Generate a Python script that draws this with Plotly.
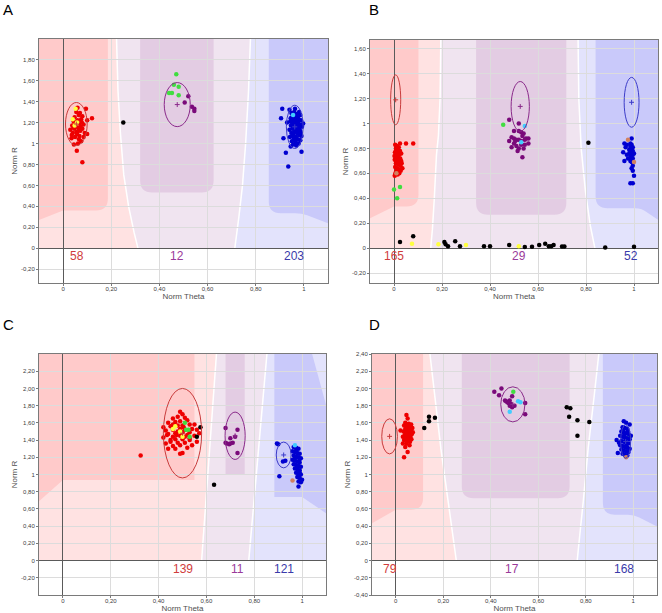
import plotly.graph_objects as go

W, H = 662, 613

# ---------------- data (Norm Theta, Norm R) ----------------
# Panel A
A_red = [(0.080,0.82),(0.057,0.93),(0.045,0.99),(0.062,1.00),(0.075,1.02),(0.100,1.09),(0.035,1.05),(0.050,1.06),
         (0.068,1.07),(0.085,1.06),(0.040,1.10),(0.055,1.11),(0.072,1.12),(0.030,1.13),(0.046,1.14),(0.062,1.15),
         (0.080,1.14),(0.038,1.17),(0.052,1.18),(0.068,1.19),(0.085,1.18),(0.044,1.21),(0.060,1.22),(0.075,1.23),
         (0.100,1.22),(0.120,1.24),(0.048,1.25),(0.065,1.27),(0.080,1.26),(0.055,1.30),(0.070,1.29),(0.095,1.33),
         (0.060,1.34),(0.042,1.16),(0.058,1.09),(0.073,1.16),(0.066,1.04),(0.050,1.20),(0.078,1.20),(0.036,1.08),
         (0.090,1.10),(0.064,1.12)]
A_yellow = [(0.052,1.33),(0.040,1.23),(0.048,1.17),(0.058,1.20)]
A_black = [(0.25,1.20)]
A_green = [(0.470,1.66),(0.460,1.56),(0.480,1.54),(0.452,1.48),(0.440,1.48),(0.480,1.46)]
A_purple = [(0.520,1.45),(0.505,1.39),(0.535,1.35),(0.545,1.33),(0.545,1.31)]
A_blue = [(0.935,0.78),(0.925,0.91),(0.990,0.92),(0.910,1.33),(0.905,1.24),(0.915,1.05),(0.930,1.20),(0.940,1.32),
          (0.980,1.30),(0.945,0.97),(0.955,0.99),(0.968,0.98),(0.978,1.00),(0.950,1.02),(0.962,1.03),(0.975,1.04),
          (0.985,1.03),(0.942,1.06),(0.955,1.07),(0.967,1.06),(0.980,1.08),(0.990,1.07),(0.948,1.10),(0.960,1.11),
          (0.972,1.10),(0.984,1.12),(0.940,1.13),(0.953,1.14),(0.965,1.15),(0.977,1.14),(0.992,1.16),(0.946,1.17),
          (0.958,1.18),(0.970,1.19),(0.982,1.18),(0.943,1.21),(0.955,1.22),(0.966,1.21),(0.978,1.23),(0.988,1.22),
          (0.950,1.25),(0.962,1.26),(0.974,1.25),(0.985,1.27),(0.948,1.29),(0.960,1.30),(0.972,1.28),(0.957,1.08),
          (0.969,1.12),(0.961,1.16),(0.973,1.17),(0.952,1.19),(0.964,1.23),(0.976,1.20),(0.958,1.04),(0.980,1.15),
          (0.945,1.24),(0.987,1.10),(0.966,1.01),(0.997,1.19),(0.963,1.33)]
A_cyan = [(0.955,1.27)]
A_orange = []
A_ellipses = [(0.055,1.185,0.045,0.205),(0.474,1.37,0.054,0.21),(0.962,1.158,0.035,0.206)]
A_counts = [58, 12, 203]
A_count_x = [0.056, 0.475, 0.958]

# Panel B
B_red = [(0.005,0.83),(0.012,0.82),(0.020,0.81),(0.008,0.80),(0.016,0.79),(0.025,0.78),(0.004,0.77),(0.013,0.76),
         (0.022,0.75),(0.030,0.76),(0.007,0.74),(0.017,0.73),(0.026,0.72),(0.003,0.71),(0.012,0.70),(0.021,0.69),
         (0.030,0.70),(0.008,0.68),(0.018,0.67),(0.027,0.66),(0.005,0.65),(0.014,0.64),(0.024,0.63),(0.010,0.62),
         (0.019,0.61),(0.028,0.62),(0.006,0.60),(0.015,0.59),(0.003,0.58),(0.022,0.60),(0.035,0.64),(0.015,0.72),
         (0.010,0.78),(0.025,0.84),(0.050,0.84),(0.080,0.84),(0.020,0.76),(0.002,0.74),(0.032,0.68)]
B_yellow = [(0.075,0.035),(0.185,0.030),(0.300,0.025),(0.520,0.015)]
B_black = [(0.025,0.050),(0.080,0.095),(0.210,0.050),(0.215,0.030),(0.225,0.015),(0.255,0.055),(0.275,0.015),
           (0.375,0.015),(0.400,0.015),(0.480,0.025),(0.545,0.008),(0.575,0.010),(0.605,0.025),(0.630,0.035),
           (0.645,0.015),(0.655,0.015),(0.665,0.025),(0.700,0.012),(0.710,0.012),(0.880,0.005),(1.000,0.010),
           (0.810,0.845)]
B_green = [(0.000,0.47),(0.025,0.49),(0.013,0.40),(0.455,0.99)]
B_purple = [(0.48,1.03),(0.52,1.00),(0.50,0.94),(0.52,0.94),(0.53,0.93),(0.54,0.92),(0.535,0.90),(0.49,0.89),
            (0.50,0.88),(0.51,0.87),(0.55,0.88),(0.56,0.88),(0.52,0.87),(0.48,0.86),(0.53,0.86),(0.56,0.84),
            (0.545,0.83),(0.53,0.83),(0.50,0.84),(0.51,0.82),(0.49,0.81),(0.52,0.80),(0.54,0.80),(0.515,0.78),
            (0.535,0.73),(0.505,0.86),(0.545,0.87)]
B_blue = [(0.99,0.88),(0.96,0.84),(0.97,0.83),(0.965,0.81),(0.985,0.84),(0.99,0.83),(0.985,0.82),(0.995,0.81),
          (0.985,0.80),(0.99,0.79),(0.995,0.78),(0.985,0.77),(0.99,0.76),(0.995,0.75),(0.98,0.76),(0.955,0.77),
          (0.985,0.74),(0.99,0.73),(0.995,0.72),(0.975,0.72),(0.96,0.70),(0.985,0.70),(0.99,0.69),(0.995,0.66),
          (0.99,0.64),(0.995,0.62),(1.0,0.58),(0.985,0.52),(0.995,0.52),(0.98,0.79),(1.0,0.76),(0.97,0.75)]
B_cyan = [(0.545,0.98),(0.53,0.85)]
B_orange = [(0.010,0.60),(0.975,0.87),(1.0,0.69)]
B_ellipses = [(0.007,1.19,0.021,0.20),(0.526,1.137,0.038,0.20),(0.99,1.17,0.031,0.20)]
B_counts = [165, 29, 52]
B_count_x = [0.0, 0.52, 0.986]

# Panel C
C_red = [(0.325,1.22),(0.49,1.24),(0.50,1.25),(0.44,1.30),(0.47,1.30),(0.52,1.31),(0.46,1.33),(0.49,1.34),
         (0.54,1.34),(0.43,1.36),(0.48,1.37),(0.51,1.37),(0.56,1.38),(0.45,1.40),(0.47,1.41),(0.50,1.41),
         (0.53,1.40),(0.42,1.43),(0.46,1.44),(0.49,1.45),(0.52,1.46),(0.55,1.45),(0.44,1.47),(0.47,1.48),
         (0.50,1.49),(0.53,1.49),(0.57,1.48),(0.43,1.51),(0.46,1.52),(0.49,1.53),(0.51,1.52),(0.54,1.53),
         (0.42,1.55),(0.45,1.56),(0.48,1.57),(0.50,1.57),(0.53,1.58),(0.44,1.60),(0.47,1.61),(0.49,1.62),
         (0.52,1.63),(0.46,1.65),(0.48,1.67),(0.50,1.70),(0.49,1.73),(0.51,1.66),(0.55,1.58),(0.45,1.38),
         (0.48,1.50),(0.51,1.44),(0.46,1.58),(0.53,1.42),(0.475,1.46),(0.505,1.55),(0.435,1.46),(0.56,1.52)]
C_yellow = [(0.46,1.53),(0.47,1.56),(0.49,1.50),(0.50,1.44)]
C_black = [(0.575,1.55),(0.56,1.44),(0.632,0.88)]
C_green = [(0.51,1.60),(0.515,1.52),(0.525,1.52),(0.53,1.44)]
C_purple = [(0.68,1.54),(0.70,1.42),(0.73,1.52),(0.685,1.36),(0.695,1.35),(0.70,1.36),(0.71,1.37),(0.72,1.44),
            (0.73,1.25),(0.68,1.37)]
C_blue = [(0.895,1.36),(0.90,1.35),(0.93,1.16),(0.92,1.15),(0.905,0.98),(0.985,0.86),(0.965,1.32),(0.975,1.31),
          (0.985,1.30),(0.96,1.27),(0.97,1.26),(0.98,1.25),(0.99,1.24),(0.965,1.22),(0.975,1.21),(0.985,1.20),
          (0.995,1.19),(0.96,1.17),(0.97,1.16),(0.98,1.15),(0.99,1.14),(0.965,1.12),(0.975,1.11),(0.985,1.10),
          (0.995,1.09),(0.97,1.07),(0.98,1.06),(0.99,1.05),(0.975,1.02),(0.985,1.01),(0.995,1.00),(0.98,0.97),
          (0.99,0.96),(1.0,0.94),(0.985,0.92),(0.995,0.91),(0.97,1.19),(0.98,1.10),(0.99,1.18),(0.975,1.28),
          (0.99,1.02)]
C_cyan = [(0.97,1.34)]
C_orange = [(0.96,0.93)]
C_ellipses = [(0.50,1.48,0.08,0.52),(0.72,1.45,0.042,0.275),(0.923,1.227,0.031,0.15)]
C_counts = [139, 11, 121]
C_count_x = [0.50, 0.732, 0.926]

# Panel D
D_red = [(0.045,1.69),(0.050,1.65),(0.020,1.51),(0.035,1.20),(0.050,1.26),(0.030,1.36),(0.040,1.60),(0.055,1.59),
         (0.065,1.58),(0.035,1.57),(0.048,1.56),(0.060,1.55),(0.070,1.54),(0.040,1.53),(0.052,1.52),(0.064,1.51),
         (0.033,1.50),(0.045,1.49),(0.057,1.48),(0.068,1.47),(0.038,1.46),(0.050,1.45),(0.062,1.44),(0.042,1.43),
         (0.055,1.42),(0.066,1.41),(0.035,1.40),(0.048,1.39),(0.060,1.38),(0.045,1.36),(0.058,1.34),(0.040,1.32),
         (0.053,1.50),(0.047,1.54),(0.059,1.46),(0.043,1.47),(0.030,1.44),(0.072,1.49),(0.050,1.58)]
D_yellow = []
D_black = [(0.12,1.54),(0.14,1.62),(0.14,1.67),(0.165,1.66),(0.72,1.78),(0.735,1.77),(0.73,1.67),(0.765,1.63),
           (0.765,1.45),(0.815,1.61)]
D_green = [(0.495,1.96),(0.985,1.44)]
D_purple = [(0.415,1.96),(0.445,2.00),(0.435,1.92),(0.49,1.91),(0.47,1.84),(0.48,1.86),(0.485,1.82),(0.465,1.85),
            (0.49,1.78),(0.50,1.80),(0.545,1.83),(0.545,1.70),(0.475,1.83),(0.48,1.80),(0.46,1.86)]
D_blue = [(0.960,1.62),(0.970,1.60),(0.985,1.58),(0.930,1.40),(0.935,1.25),(0.955,1.55),(0.965,1.54),(0.975,1.53),
          (0.950,1.50),(0.960,1.49),(0.970,1.48),(0.980,1.47),(0.945,1.45),(0.955,1.44),(0.965,1.43),(0.975,1.42),
          (0.985,1.41),(0.950,1.39),(0.960,1.38),(0.970,1.37),(0.980,1.36),(0.945,1.34),(0.955,1.33),(0.965,1.32),
          (0.975,1.31),(0.950,1.29),(0.960,1.28),(0.970,1.27),(0.980,1.26),(0.955,1.24),(0.965,1.23),(0.975,1.22),
          (0.985,1.30),(0.990,1.45),(0.940,1.37),(0.962,1.46),(0.972,1.35),(0.958,1.52),(0.968,1.40),(0.978,1.50)]
D_cyan = [(0.525,1.84),(0.515,1.85),(0.48,1.73)]
D_orange = [(0.97,1.20)]
D_ellipses = [(-0.026,1.443,0.033,0.204),(0.493,1.815,0.051,0.204),(0.968,1.384,0.021,0.196)]
D_counts = [79, 17, 168]
D_count_x = [-0.025, 0.49, 0.963]

# cluster-region boundaries (data coords)
A_red_bnd = [(0.222,2.0),(0.228,1.5),(0.238,1.1),(0.252,0.7),(0.272,0.4),(0.295,0.15),(0.311,0)]
A_blue_bnd = [(0.778,2.0),(0.770,1.5),(0.758,1.0),(0.745,0.6),(0.730,0.3),(0.713,0)]
A_dark_red = [(-0.1,None),(0.186,None),(0.186,0.36),(0.0,0.36),(-0.1,0.27)]
A_dark_purple = [(0.32,None),(0.625,None),(0.625,0.533),(0.32,0.533)]
A_dark_blue = [(0.854,None),(1.1,None),(1.1,0.24),(0.99,0.335),(0.854,0.335)]

B_red_bnd = [(0.195,1.7),(0.192,1.2),(0.185,0.9),(0.177,0.75),(0.168,0.4),(0.160,0.15),(0.153,0)]
B_blue_bnd = [(0.767,1.7),(0.770,1.2),(0.780,0.8),(0.798,0.45),(0.818,0.18),(0.837,0)]
B_dark_red = [(-0.1,None),(0.102,None),(0.102,0.334),(0.0,0.334),(-0.1,0.24)]
B_dark_purple = [(0.342,None),(0.718,None),(0.718,0.267),(0.342,0.267)]
B_dark_blue = [(0.84,None),(1.1,None),(1.1,0.227),(1.03,0.32),(0.84,0.32)]

C_red_bnd = [(0.642,2.4),(0.580,0)]
C_blue_bnd = [(0.853,2.4),(0.777,0)]
C_dark_red = [(-0.1,None),(0.55,None),(0.55,0.935),(0.0,0.935),(-0.1,0.69)]
C_dark_purple = [(0.68,None),(0.76,None),(0.76,1.0),(0.68,1.0)]
C_dark_blue = [(0.884,None),(1.042,None),(1.1,1.81),(1.1,0.55),(1.0,0.74),(0.884,0.74)]

D_red_bnd = [(0.144,2.4),(0.165,1.9),(0.19,1.3),(0.22,0.7),(0.24,0.3),(0.255,0)]
D_blue_bnd = [(0.855,2.4),(0.835,1.9),(0.81,1.3),(0.79,0.7),(0.775,0.3),(0.764,0)]
D_dark_red = [(-0.1,None),(0.115,None),(0.115,0.59),(0.0,0.59),(-0.1,0.435)]
D_dark_purple = [(0.278,None),(0.732,None),(0.732,0.725),(0.278,0.725)]
D_dark_blue = [(0.872,None),(1.1,None),(1.1,0.396),(1.003,0.533),(0.872,0.533)]

x_ticks = [0, 0.2, 0.4, 0.6, 0.8, 1]
A_yticks = [-0.2, 0, 0.2, 0.4, 0.6, 0.8, 1, 1.2, 1.4, 1.6, 1.8]
B_yticks = [-0.2, 0, 0.2, 0.4, 0.6, 0.8, 1, 1.2, 1.4, 1.6]
C_yticks = [-0.2, 0, 0.2, 0.4, 0.6, 0.8, 1, 1.2, 1.4, 1.6, 1.8, 2.0, 2.2]
D_yticks = [-0.4, -0.2, 0, 0.2, 0.4, 0.6, 0.8, 1, 1.2, 1.4, 1.6, 1.8, 2.0, 2.2, 2.4]

# ---------------- layout settings ----------------
X_RANGE = [-0.1, 1.1]
panels = [
    dict(name="A", ax="", box=(39, 328, 39, 283), yr=[-0.33, 1.995], yt=A_yticks,
         pts=dict(red=A_red, yellow=A_yellow, black=A_black, green=A_green, purple=A_purple, blue=A_blue,
                  cyan=A_cyan, orange=A_orange),
         ell=A_ellipses, counts=A_counts, cx=A_count_x, rb=A_red_bnd, bb=A_blue_bnd,
         dr=A_dark_red, dp=A_dark_purple, db=A_dark_blue, rad=[0, 0, 12, 0, 0], radp=[0, 0, 12, 12],
         radb=[0, 0, 0, 6, 12], letter_pos=(8, 10)),
    dict(name="B", ax="2", box=(370, 658, 40, 283), yr=[-0.28, 1.67], yt=B_yticks,
         pts=dict(red=B_red, yellow=B_yellow, black=B_black, green=B_green, purple=B_purple, blue=B_blue,
                  cyan=B_cyan, orange=B_orange),
         ell=B_ellipses, counts=B_counts, cx=B_count_x, rb=B_red_bnd, bb=B_blue_bnd,
         dr=B_dark_red, dp=B_dark_purple, db=B_dark_blue, rad=[0, 0, 12, 0, 0], radp=[0, 0, 12, 12],
         radb=[0, 0, 0, 6, 12], letter_pos=(374, 10)),
    dict(name="C", ax="3", box=(39, 326, 354, 595), yr=[-0.4, 2.4], yt=C_yticks,
         pts=dict(red=C_red, yellow=C_yellow, black=C_black, green=C_green, purple=C_purple, blue=C_blue,
                  cyan=C_cyan, orange=C_orange),
         ell=C_ellipses, counts=C_counts, cx=C_count_x, rb=C_red_bnd, bb=C_blue_bnd,
         dr=C_dark_red, dp=C_dark_purple, db=C_dark_blue, rad=[0, 0, 0, 0, 0], radp=[0, 0, 0, 0],
         radb=[0, 0, 0, 0, 0, 0], letter_pos=(8, 324)),
    dict(name="D", ax="4", box=(372, 657, 354, 595), yr=[-0.4, 2.4], yt=D_yticks,
         pts=dict(red=D_red, yellow=D_yellow, black=D_black, green=D_green, purple=D_purple, blue=D_blue,
                  cyan=D_cyan, orange=D_orange),
         ell=D_ellipses, counts=D_counts, cx=D_count_x, rb=D_red_bnd, bb=D_blue_bnd,
         dr=D_dark_red, dp=D_dark_purple, db=D_dark_blue, rad=[0, 0, 12, 0, 0], radp=[0, 0, 12, 12],
         radb=[0, 0, 0, 6, 12], letter_pos=(374, 324)),
]

PT_COL = dict(red="#EE0000", yellow="#FFFF40", black="#000000", green="#40DD40", purple="#7A0A7A",
              blue="#0000D0", cyan="#40CCFF", orange="#D08060")
ZONE_LIGHT = ["#FFE2E2", "#F0E4F0", "#E3E3FC"]
ZONE_DARK = ["#FFCACA", "#E3CCE3", "#C9C9FA"]
ELL_COL = ["#C83C3C", "#8A2A8A", "#3C3CC8"]
CNT_COL = ["#D03C3C", "#9A3A9A", "#3A3AAA"]
FONT = "Liberation Sans, Arial, sans-serif"


def fmt(v):
    if abs(v) < 1e-9:
        return "0"
    if abs(v - 1) < 1e-9:
        return "1"
    return f"{v:.2f}".replace(".", ",")


def path_from(points, radii, sx, sy, close=True):
    n = len(points)
    cmds = []
    for i, (x, y) in enumerate(points):
        r = radii[i] if radii else 0
        if r == 0:
            cmds.append(f"{'M' if i == 0 else 'L'} {x},{y}")
        else:
            px, py = points[i - 1]
            nx, ny = points[(i + 1) % n]

            def toward(ax_, ay_):
                dx = (ax_ - x) * sx
                dy = (ay_ - y) * sy
                d = (dx * dx + dy * dy) ** 0.5
                return x + dx / d * r / sx, y + dy / d * r / sy
            p1 = toward(px, py)
            p2 = toward(nx, ny)
            cmds.append(f"L {p1[0]},{p1[1]}")
            cmds.append(f"Q {x},{y} {p2[0]},{p2[1]}")
    if close:
        cmds.append("Z")
    return " ".join(cmds)


fig = go.Figure()
shapes = []
annotations = []
layout_axes = {}

for p in panels:
    x0p, x1p, y0p, y1p = p["box"]
    sx = (x1p - x0p) / (X_RANGE[1] - X_RANGE[0])
    sy = (y1p - y0p) / (p["yr"][1] - p["yr"][0])
    ytop = p["yr"][1]
    xr, yr = "x" + p["ax"], "y" + p["ax"]

    rb = [(x, min(y, ytop)) for x, y in p["rb"]]
    bb = [(x, min(y, ytop)) for x, y in p["bb"]]
    light_red = [(X_RANGE[0], 0), (X_RANGE[0], ytop)] + rb
    light_purple = rb + bb[::-1]
    light_blue = bb + [(X_RANGE[1], 0), (X_RANGE[1], ytop)]
    for poly, col in zip([light_red, light_purple, light_blue], ZONE_LIGHT):
        shapes.append(dict(type="path", xref=xr, yref=yr, path=path_from(poly, None, sx, sy),
                           fillcolor=col, line=dict(width=0), layer="below"))
    for key, rk, col in zip(["dr", "dp", "db"], ["rad", "radp", "radb"], ZONE_DARK):
        poly = [(x, ytop if y is None else y) for x, y in p[key]]
        shapes.append(dict(type="path", xref=xr, yref=yr, path=path_from(poly, p[rk], sx, sy),
                           fillcolor=col, line=dict(width=0), layer="below"))
    for bnd in [rb, bb]:
        shapes.append(dict(type="path", xref=xr, yref=yr, path=path_from(bnd, None, sx, sy, close=False),
                           line=dict(color="white", width=1.5), layer="below"))

    # points
    for grp, pts in p["pts"].items():
        if not pts:
            continue
        fig.add_trace(go.Scatter(x=[q[0] for q in pts], y=[q[1] for q in pts], mode="markers",
                                 xaxis=xr, yaxis=yr, showlegend=False, hoverinfo="skip",
                                 marker=dict(size=4.5, color=PT_COL[grp], line=dict(width=0))))

    # ellipses + centres
    for (cx, cy, rx, ry), col in zip(p["ell"], ELL_COL):
        shapes.append(dict(type="circle", xref=xr, yref=yr, x0=cx - rx, x1=cx + rx, y0=cy - ry, y1=cy + ry,
                           line=dict(color=col, width=1), layer="above"))
        fig.add_trace(go.Scatter(x=[cx], y=[cy], mode="markers", xaxis=xr, yaxis=yr, showlegend=False,
                                 hoverinfo="skip",
                                 marker=dict(symbol="cross-thin", size=3.5, line=dict(color=col, width=1))))

    # counts
    for n, cxv, col in zip(p["counts"], p["cx"], CNT_COL):
        annotations.append(dict(x=cxv, y=0, xref=xr, yref=yr, text=str(n), showarrow=False,
                                yanchor="middle", yshift=-8, font=dict(size=12, color=col, family=FONT)))

    # panel letter
    lx, ly = p["letter_pos"]
    annotations.append(dict(x=lx / W, y=1 - ly / H, xref="paper", yref="paper", text=p["name"],
                            showarrow=False, xanchor="center", yanchor="middle",
                            font=dict(size=15, color="black", family=FONT)))

    common = dict(showgrid=True, gridcolor="#DCDCDC", gridwidth=1, zeroline=True, zerolinecolor="#5A5A5A",
                  zerolinewidth=1, showline=True, mirror=True, linecolor="#7A7A7A", linewidth=1,
                  ticks="outside", ticklen=2, tickcolor="#7A7A7A", automargin=False, fixedrange=True,
                  tickfont=dict(size=6, color="#404040", family=FONT))
    layout_axes["xaxis" + p["ax"]] = dict(common, domain=[x0p / W, x1p / W], range=X_RANGE,
                                          tickvals=x_ticks, ticktext=[fmt(v) for v in x_ticks],
                                          anchor=yr, ticklabelstandoff=-2,
                                          title=dict(text="Norm Theta", standoff=0,
                                                     font=dict(size=8, color="#505050", family=FONT)))
    layout_axes["yaxis" + p["ax"]] = dict(common, domain=[1 - y1p / H, 1 - y0p / H], range=p["yr"],
                                          tickvals=p["yt"], ticktext=[fmt(v) for v in p["yt"]],
                                          anchor=xr,
                                          title=dict(text="Norm R", standoff=2,
                                                     font=dict(size=8, color="#505050", family=FONT)))

fig.update_layout(width=W, height=H, margin=dict(l=0, r=0, t=0, b=0), paper_bgcolor="white",
                  plot_bgcolor="white", shapes=shapes, annotations=annotations, **layout_axes)

fig.write_html("out.html", config={"displayModeBar": False},
               post_script="document.body.style.margin='0';")
